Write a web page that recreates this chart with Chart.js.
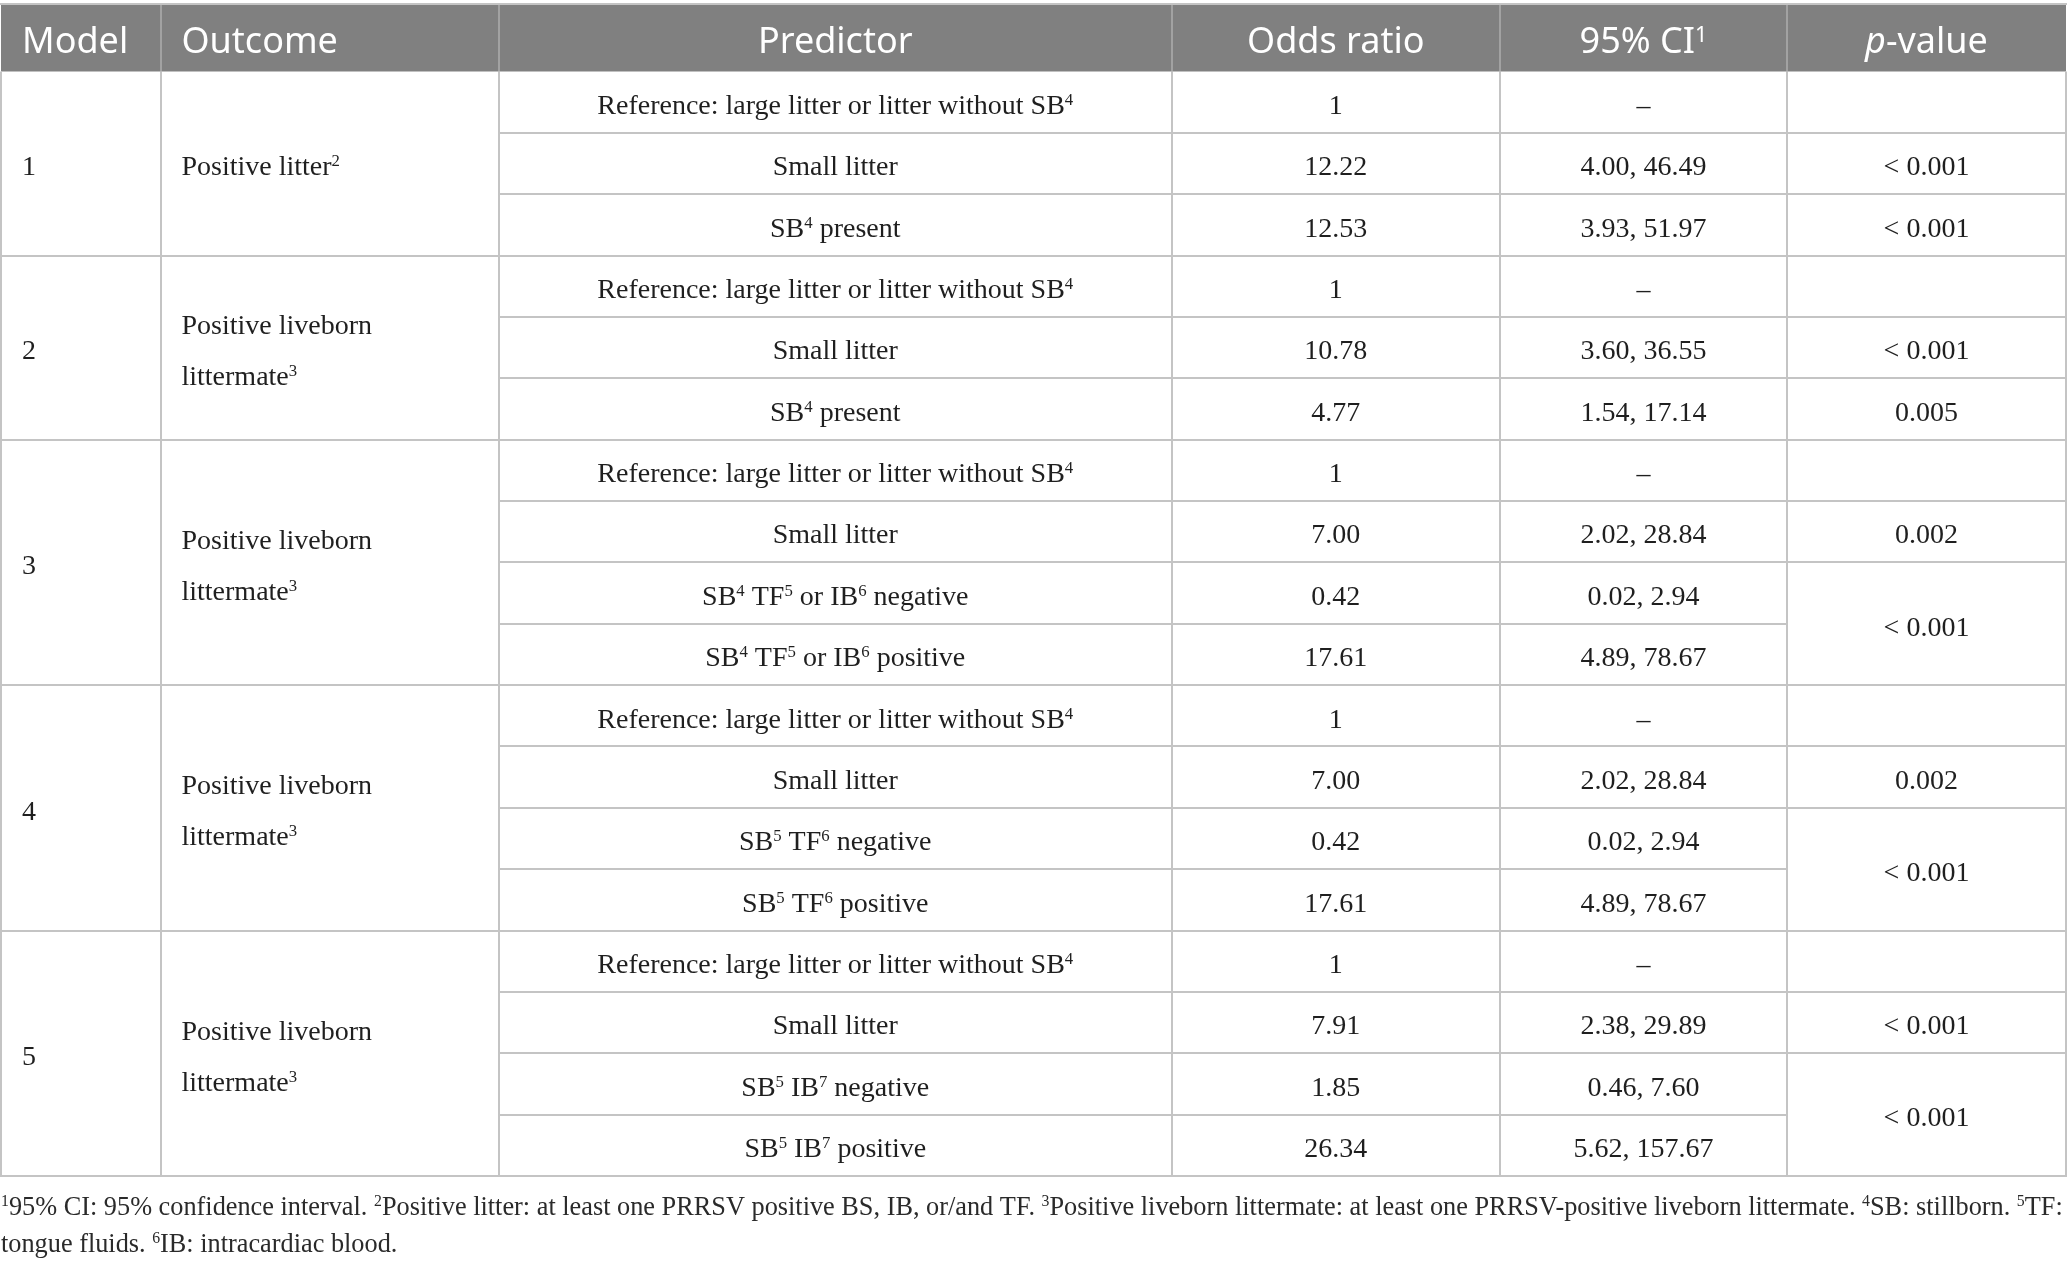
<!DOCTYPE html>
<html>
<head>
<meta charset="utf-8">
<script src="https://cdn.jsdelivr.net/npm/chart.js@4.4.1/dist/chart.umd.min.js"></script>
<style>
html,body{margin:0;padding:0;background:#ffffff;}
#wrap{width:2067px;height:1267px;position:relative;overflow:hidden;}
canvas{display:block;}
</style>
</head>
<body>
<div id="wrap"><canvas id="c" width="2067" height="1267"></canvas></div>
<script>
// ---------------- DATA ----------------
const headers = ['Model', 'Outcome', 'Predictor', 'Odds ratio', '95% CI^{1}', '*p*-value'];
const models = ['1', '2', '3', '4', '5'];
const modelRowCounts = [3, 3, 4, 4, 4];
const outcomes = [
  'Positive litter^{2}',
  'Positive liveborn littermate^{3}',
  'Positive liveborn littermate^{3}',
  'Positive liveborn littermate^{3}',
  'Positive liveborn littermate^{3}'
];
const predictors = [
  'Reference: large litter or litter without SB^{4}', 'Small litter', 'SB^{4} present',
  'Reference: large litter or litter without SB^{4}', 'Small litter', 'SB^{4} present',
  'Reference: large litter or litter without SB^{4}', 'Small litter', 'SB^{4} TF^{5} or IB^{6} negative', 'SB^{4} TF^{5} or IB^{6} positive',
  'Reference: large litter or litter without SB^{4}', 'Small litter', 'SB^{5} TF^{6} negative', 'SB^{5} TF^{6} positive',
  'Reference: large litter or litter without SB^{4}', 'Small litter', 'SB^{5} IB^{7} negative', 'SB^{5} IB^{7} positive'
];
const isReference = [true, false, false, true, false, false, true, false, false, false, true, false, false, false, true, false, false, false];
const oddsRatios = [1, 12.22, 12.53, 1, 10.78, 4.77, 1, 7.00, 0.42, 17.61, 1, 7.00, 0.42, 17.61, 1, 7.91, 1.85, 26.34];
const ciLower = [null, 4.00, 3.93, null, 3.60, 1.54, null, 2.02, 0.02, 4.89, null, 2.02, 0.02, 4.89, null, 2.38, 0.46, 5.62];
const ciUpper = [null, 46.49, 51.97, null, 36.55, 17.14, null, 28.84, 2.94, 78.67, null, 28.84, 2.94, 78.67, null, 29.89, 7.60, 157.67];
// null = merged with the cell above
const pValues = ['', '< 0.001', '< 0.001', '', '< 0.001', '0.005', '', '0.002', '< 0.001', null, '', '0.002', '< 0.001', null, '', '< 0.001', '< 0.001', null];
const footnoteLines = [
  '^{1}95% CI: 95% confidence interval. ^{2}Positive litter: at least one PRRSV positive BS, IB, or/and TF. ^{3}Positive liveborn littermate: at least one PRRSV-positive liveborn littermate. ^{4}SB: stillborn. ^{5}TF:',
  'tongue fluids. ^{6}IB: intracardiac blood.'
];

// ---------------- LAYOUT / STYLE ----------------
const colWidths = [159.5, 338.5, 672.5, 328.5, 287, 279];
const headerAlign = ['left', 'left', 'center', 'center', 'center', 'center'];
const HEADER_UNITS = 1.1;
const TEXT_PAD = 21;
const HEADER_BG = '#808080';
const HEADER_SEP = '#a2a2a2';
const BORDER = '#c4c4c4';
const TEXT = '#1f1f1f';
const headFont = { family: '"Noto Sans", "Open Sans", sans-serif', size: 36, cap: 0.714, shift: 2.5, color: '#ffffff' };
const bodyFont = { family: '"Liberation Serif", "DejaVu Serif", serif', size: 28, cap: 0.662, shift: 2.5, color: TEXT };
const footFont = { family: '"Liberation Serif", "DejaVu Serif", serif', size: 26.6, cap: 0.662, shift: 0, color: '#2a2a2a' };
const FOOT_MAX_W = 2062;

const totalRows = modelRowCounts.reduce((a, b) => a + b, 0);
const colStarts = [0];
colWidths.forEach((w, i) => colStarts.push(colStarts[i] + w));
const totalWidth = colStarts[colStarts.length - 1];

function fmt(v) { return v.toFixed(2); }
function orText(i) { return isReference[i] ? String(oddsRatios[i]) : fmt(oddsRatios[i]); }
function ciText(i) { return ciLower[i] === null ? '\u2013' : fmt(ciLower[i]) + ', ' + fmt(ciUpper[i]); }

// ---------------- RICH TEXT ----------------
function parseRich(s) {
  const segs = []; const re = /\^\{([^}]*)\}|\*([^*]+)\*/g; let last = 0, m;
  while ((m = re.exec(s))) {
    if (m.index > last) segs.push({ t: s.slice(last, m.index) });
    if (m[1] !== undefined) segs.push({ t: m[1], sup: true }); else segs.push({ t: m[2], it: true });
    last = re.lastIndex;
  }
  if (last < s.length) segs.push({ t: s.slice(last) });
  return segs;
}
function segFont(seg, f) {
  const size = seg.sup ? f.size * 0.6 : f.size;
  return (seg.it ? 'italic ' : '') + size + 'px ' + f.family;
}
function richWidth(ctx, s, f) {
  let w = 0;
  parseRich(s).forEach(seg => { ctx.font = segFont(seg, f); w += ctx.measureText(seg.t).width; });
  return w;
}
function drawRich(ctx, s, x, cy, align, f) {
  const w = richWidth(ctx, s, f);
  let cx = align === 'center' ? x - w / 2 : x;
  const base = cy + f.size * f.cap / 2 + (f.shift || 0);
  ctx.fillStyle = f.color; ctx.textBaseline = 'alphabetic'; ctx.textAlign = 'left';
  parseRich(s).forEach(seg => {
    ctx.font = segFont(seg, f);
    const y = seg.sup ? base - f.size * 0.32 : base;
    ctx.fillText(seg.t, cx, y);
    cx += ctx.measureText(seg.t).width;
  });
}
function wrapRich(ctx, s, maxW, f) {
  const words = s.split(' '); const lines = []; let cur = '';
  words.forEach(w => {
    const test = cur ? cur + ' ' + w : w;
    if (cur && richWidth(ctx, test, f) > maxW) { lines.push(cur); cur = w; } else cur = test;
  });
  if (cur) lines.push(cur);
  return lines;
}

// ---------------- TABLE PLUGIN ----------------
const tablePlugin = {
  id: 'tablePlugin',
  beforeDraw(chart) {
    const ctx = chart.ctx;
    ctx.save(); ctx.fillStyle = '#ffffff'; ctx.fillRect(0, 0, chart.width, chart.height); ctx.restore();
  },
  afterDraw(chart) {
    const ctx = chart.ctx; const xs = chart.scales.x; const ys = chart.scales.y;
    const X = v => xs.getPixelForValue(v); const Y = v => ys.getPixelForValue(v);
    const xL = X(0), xR = X(totalWidth);
    const rowTop = r => Y(HEADER_UNITS + r);
    const rowMid = r => Y(HEADER_UNITS + r + 0.5);
    ctx.save();

    // header background
    ctx.fillStyle = HEADER_BG;
    ctx.fillRect(xL, Y(0), xR - xL, Y(HEADER_UNITS) - Y(0));
    // top line
    ctx.strokeStyle = BORDER; ctx.lineWidth = 2;
    ctx.beginPath(); ctx.moveTo(xL - 1, Y(0)); ctx.lineTo(xR + 1, Y(0)); ctx.stroke();
    // header separators
    ctx.strokeStyle = HEADER_SEP; ctx.lineWidth = 2;
    for (let c = 1; c < colWidths.length; c++) {
      const x = Math.round(X(colStarts[c]));
      ctx.beginPath(); ctx.moveTo(x, Y(0) + 1); ctx.lineTo(x, Y(HEADER_UNITS)); ctx.stroke();
    }
    // header text
    const hMid = Y(HEADER_UNITS / 2);
    headers.forEach((h, c) => {
      const x = headerAlign[c] === 'left' ? X(colStarts[c]) + TEXT_PAD : X(colStarts[c] + colWidths[c] / 2);
      drawRich(ctx, h, x, hMid, headerAlign[c], headFont);
    });

    // body lines
    ctx.strokeStyle = BORDER; ctx.lineWidth = 2;
    const modelStarts = new Set(); let acc = 0;
    modelRowCounts.forEach(n => { modelStarts.add(acc); acc += n; });
    for (let r = 1; r < totalRows; r++) {
      const y = Math.round(rowTop(r));
      let x0, x1;
      if (modelStarts.has(r)) { x0 = xL; x1 = xR; }
      else { x0 = X(colStarts[2]); x1 = pValues[r] === null ? X(colStarts[5]) : xR; }
      ctx.beginPath(); ctx.moveTo(x0, y); ctx.lineTo(x1, y); ctx.stroke();
    }
    const yb = Math.round(rowTop(totalRows));
    ctx.beginPath(); ctx.moveTo(xL - 1, yb); ctx.lineTo(xR + 1, yb); ctx.stroke();
    for (let c = 0; c <= colWidths.length; c++) {
      const x = Math.round(X(colStarts[c]));
      ctx.beginPath(); ctx.moveTo(x, Y(HEADER_UNITS)); ctx.lineTo(x, yb); ctx.stroke();
    }

    // model + outcome cells
    let start = 0;
    modelRowCounts.forEach((n, m) => {
      const cy = Y(HEADER_UNITS + start + n / 2);
      drawRich(ctx, models[m], X(colStarts[0]) + TEXT_PAD, cy, 'left', bodyFont);
      const lines = wrapRich(ctx, outcomes[m], colWidths[1] - 2 * TEXT_PAD, bodyFont);
      const lh = bodyFont.size * 1.82;
      lines.forEach((ln, k) => {
        drawRich(ctx, ln, X(colStarts[1]) + TEXT_PAD, cy + (k - (lines.length - 1) / 2) * lh, 'left', bodyFont);
      });
      start += n;
    });

    // per-row cells
    for (let r = 0; r < totalRows; r++) {
      const cy = rowMid(r);
      drawRich(ctx, predictors[r], X(colStarts[2] + colWidths[2] / 2), cy, 'center', bodyFont);
      drawRich(ctx, orText(r), X(colStarts[3] + colWidths[3] / 2), cy, 'center', bodyFont);
      drawRich(ctx, ciText(r), X(colStarts[4] + colWidths[4] / 2), cy, 'center', bodyFont);
      if (pValues[r] !== null && pValues[r] !== '') {
        let span = 1; while (r + span < totalRows && pValues[r + span] === null) span++;
        drawRich(ctx, pValues[r], X(colStarts[5] + colWidths[5] / 2), Y(HEADER_UNITS + r + span / 2), 'center', bodyFont);
      }
    }

    // footnotes (font fitted so the first line ends at the right edge like the reference)
    const w0 = richWidth(ctx, footnoteLines[0], footFont);
    const ff = Object.assign({}, footFont, { size: Math.min(footFont.size, footFont.size * FOOT_MAX_W / w0) });
    footnoteLines.forEach((ln, k) => {
      drawRich(ctx, ln, 1, yb + 30 + k * 37, 'left', ff);
    });
    ctx.restore();
  }
};

new Chart(document.getElementById('c'), {
  type: 'scatter',
  data: { datasets: [{ data: [], pointRadius: 0 }] },
  options: {
    responsive: false,
    maintainAspectRatio: false,
    devicePixelRatio: 1,
    animation: false,
    layout: { padding: { left: 1, right: 1, top: 4, bottom: 91 } },
    plugins: { legend: { display: false }, tooltip: { enabled: false }, title: { display: false } },
    scales: {
      x: { type: 'linear', min: 0, max: totalWidth, display: false },
      y: { type: 'linear', min: 0, max: HEADER_UNITS + totalRows, reverse: true, display: false }
    }
  },
  plugins: [tablePlugin]
});
</script>
</body>
</html>
